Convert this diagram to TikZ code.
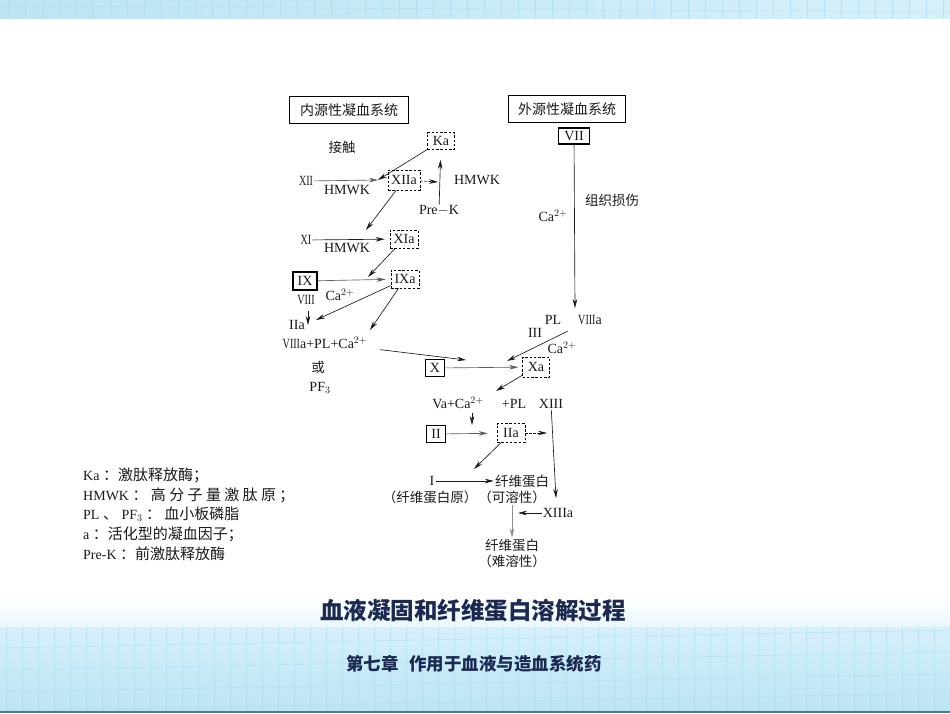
\documentclass[tikz,border=0pt]{standalone}
\usepackage{graphicx}
\usepackage{fontspec}
\setmainfont{Liberation Serif}
\newfontfamily\cjk{Noto Sans CJK SC}
\usetikzlibrary{arrows.meta}
\definecolor{bandA}{HTML}{BCE4F5}
\definecolor{bandB}{HTML}{D6F0FA}
\definecolor{gridc}{HTML}{A9D9EE}
\definecolor{navy}{HTML}{1C2A52}
\definecolor{edgec}{HTML}{56788A}
\definecolor{ink}{HTML}{1A1A1A}
\tikzset{
  lab/.style={font=\fontsize{14}{15}\selectfont, inner sep=1pt, text=ink},
  zh/.style={font=\cjk\fontsize{13.5}{15}\selectfont, inner sep=1pt, text=ink},
  dbox/.style={draw, dash pattern=on 2.5pt off 1.8pt, line width=0.65pt, inner sep=1pt,
    minimum height=18pt, font=\fontsize{14}{15}\selectfont, text=ink},
  sbox/.style={draw, line width=1.4pt, inner sep=1pt, minimum height=17pt,
    minimum width=19pt, font=\fontsize{14}{15}\selectfont, text=ink},
  tbox/.style={draw, line width=0.9pt, inner sep=2pt, minimum height=27pt,
    font=\cjk\fontsize{14}{16}\selectfont, text=ink},
  arr/.style={-{Stealth[length=9pt,width=4.6pt]}, line width=0.65pt, draw=ink},
  darr/.style={arr, dash pattern=on 2.5pt off 1.5pt},
  leg/.style={anchor=west, inner sep=0pt, font=\fontsize{14}{15}\selectfont, text=ink},
}
\newcommand{\zc}[1]{{\cjk\fontsize{15}{16}\selectfont #1}}
\newcommand{\rn}[1]{\scalebox{0.72}[1]{#1}}
\begin{document}
\begin{tikzpicture}[x=1pt,y=-1pt]
\useasboundingbox (0,0) rectangle (950,713);
\fill[white] (0,0) rectangle (950,713);
% ---- background bands ----
\shade[left color=bandA, right color=bandB] (0,0) rectangle (950,18);
\foreach \x in {8,25,...,950} \draw[gridc, line width=0.4pt, opacity=0.6] (\x,0) -- (\x,18);
\draw[gridc, line width=0.5pt, opacity=0.6] (0,6) -- (950,12);
\shade[top color=white, bottom color=bandB!60] (0,600) rectangle (950,628);
\shade[top color=bandB, bottom color=bandA] (0,627) rectangle (950,711);
\foreach \x in {6,22,...,950} \draw[gridc, line width=0.4pt, opacity=0.55] (\x,627) -- (\x,711);
\foreach \y in {640,662,684,703} \draw[gridc, line width=0.5pt, opacity=0.6] (0,\y+8) -- (950,\y-10);
\fill[edgec] (0,711) rectangle (950,713);
% ---- title boxes ----
\node[tbox, minimum width=119pt] (intr) at (349,110) {内源性凝血系统};
\node[tbox, minimum width=117pt] (extr) at (567,109) {外源性凝血系统};
% ---- intrinsic pathway ----
\node[zh] (contact) at (342,147) {接触};
\node[dbox, minimum width=27pt, minimum height=17pt] (Ka) at (441,141) {Ka};
\node[lab] (XII) at (306,181) {\rn{XII}};
\node[dbox, minimum width=32pt, minimum height=20pt] (XIIa) at (404,180) {XIIa};
\node[lab] (hm1) at (347,190) {HMWK};
\node[lab] (hm2) at (477,180) {HMWK};
\node[lab] (PreK) at (439,211) {Pre$-$K};
\node[lab] (XI) at (306,240) {\rn{XI}};
\node[dbox, minimum width=28pt] (XIa) at (404,239) {XIa};
\node[lab] (hm3) at (347,248) {HMWK};
\node[sbox, minimum width=24pt, minimum height=18pt] (IX) at (305,281) {IX};
\node[dbox, minimum width=28pt] (IXa) at (405,279) {IXa};
\node[lab] (ca1) at (340,295) {Ca$^{2+}$};
\node[lab] (VIII) at (306,300) {\rn{VIII}};
\node[lab] (IIa1) at (297,325) {IIa};
\node[lab] (mix) at (325,343) {\rn{VIII}a+PL+Ca$^{2+}$};
\node[zh] (huo) at (318,367) {或};
\node[lab] (PF3) at (320,388) {PF$_3$};
% ---- extrinsic pathway ----
\node[sbox, minimum width=31pt, minimum height=16pt] (VII) at (574,136) {VII};
\node[zh] (tis) at (612,200) {组织损伤};
\node[lab] (ca2) at (553,216) {Ca$^{2+}$};
\node[lab] (PL1) at (553,320) {PL};
\node[lab] (VIIIa) at (590,320) {\rn{VIII}a};
\node[lab] (III) at (535,333) {III};
\node[lab] (ca3) at (562,348) {Ca$^{2+}$};
% ---- common pathway ----
\node[sbox] (X) at (435,368) {X};
\node[dbox, minimum width=27pt, minimum height=20pt] (Xa) at (536,367) {Xa};
\node[lab] (Va) at (458,403) {Va+Ca$^{2+}$};
\node[lab] (PL2) at (514,404) {+PL};
\node[lab] (XIII) at (551,404) {XIII};
\node[sbox] (II) at (436,434) {II};
\node[dbox, minimum width=28pt, minimum height=19pt] (IIa) at (511,433) {IIa};
\node[lab] (I) at (432,481) {I};
\node[zh] (fib1) at (522,481) {纤维蛋白};
\node[zh] (fbg) at (430,497) {（纤维蛋白原）};
\node[zh] (sol) at (512,497) {（可溶性）};
\node[lab] (XIIIa) at (558,513) {XIIIa};
\node[zh] (fib2) at (512,545) {纤维蛋白};
\node[zh] (insol) at (512,561) {（难溶性）};
% ---- free ends ----
\coordinate (j1) at (378,180);
\coordinate (j2) at (438,182);
\coordinate (j3) at (366,230);
\coordinate (j5) at (368,277);
\coordinate (j6) at (316,320);
\coordinate (j7) at (370,330);
\coordinate (j8t) at (308,311);
\coordinate (j8) at (308,325);
\coordinate (j9) at (466,360);
\coordinate (j10) at (575,308);
\coordinate (j11) at (568,331);
\coordinate (j12) at (507,361);
\coordinate (j13) at (496,391);
\coordinate (j14t) at (472,413);
\coordinate (j14) at (472,425);
\coordinate (j15) at (547,433);
\coordinate (j16) at (556,498);
\coordinate (j17) at (474,469);
\coordinate (j18) at (518,513);
% ---- connectors ----
\draw[arr, draw=ink!70] (XII) -- (j1);
\draw[arr] (Ka) -- (j1);
\draw[darr] (XIIa) -- (j2);
\draw[arr, shorten >=10pt] (PreK) -- (Ka);
\draw[arr] (XIIa) -- (j3);
\draw[arr, shorten >=5pt] (XI) -- (XIa);
\draw[arr] (XIa) -- (j5);
\draw[arr, draw=ink!70, shorten >=5pt] (IX) -- (IXa);
\draw[arr] (IXa) -- (j6);
\draw[arr] (IXa) -- (j7);
\draw[arr] (j8t) -- (j8);
\draw[arr, shorten <=12pt] (mix) -- (j9);
\draw[arr] (VII) -- (j10);
\draw[arr] (j11) -- (j12);
\draw[arr, draw=ink!70, shorten >=4pt] (X) -- (Xa);
\draw[arr] (Xa) -- (j13);
\draw[arr] (j14t) -- (j14);
\draw[arr, draw=ink!70, shorten >=9pt] (II) -- (IIa);
\draw[darr] (IIa) -- (j15);
\draw[arr] (XIII) -- (j16);
\draw[arr] (IIa) -- (j17);
\draw[arr, line width=1pt] (I) -- (fib1);
\draw[arr] (XIIIa) -- (j18);
\draw[arr, draw=ink!50] (sol) -- (fib2);
% ---- legend ----
\node[leg] (L1) at (83,475) {Ka \zc{：激肽释放酶；}};
\node[leg] (L2) at (83,495) {HMWK \zc{： 高 分 子 量 激 肽 原 ；}};
\node[leg] (L3) at (83,514) {PL \zc{、} PF$_3$ \zc{： 血小板磷脂}};
\node[leg] (L4) at (83,534) {a \zc{：活化型的凝血因子；}};
\node[leg] (L5) at (83,554) {Pre-K \zc{：前激肽释放酶}};
% ---- titles ----
\node[font=\cjk\bfseries\fontsize{23.5}{26}\selectfont, text=navy] (title) at (473,611) {血液凝固和纤维蛋白溶解过程};
\node[font=\cjk\bfseries\fontsize{17.5}{20}\selectfont, text=navy] (sub) at (474,664) {第七章\hspace{0.6em}作用于血液与造血系统药};
\end{tikzpicture}
\end{document}
